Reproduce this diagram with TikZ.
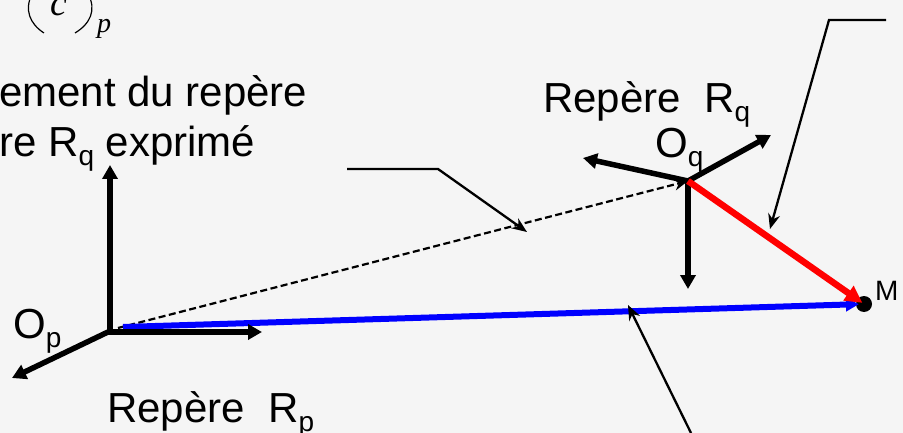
\documentclass[tikz,border=0pt]{standalone}
\usepackage{fontspec}
\setmainfont{Liberation Sans}
\newfontfamily\timesfont{Liberation Serif}
\usepackage{xcolor}
\usetikzlibrary{arrows.meta, positioning}
\definecolor{bgpage}{HTML}{F5F5F5}
\newcommand{\sousind}[1]{\raisebox{-9pt}{\fontsize{28}{28}\selectfont #1}}
\tikzset{
  lab/.style={inner sep=0pt, font=\fontsize{42}{42}\selectfont, anchor=base west},
  axe/.style={-{Triangle[length=14pt, width=15pt]}, line width=5.5pt, black},
  vecq/.style={-{Triangle[length=17pt, width=17pt]}, line width=6.5pt, red},
  vecp/.style={-{Triangle[length=13pt, width=13pt]}, line width=6pt, blue},
  fleche/.style={-{Stealth[length=15pt, width=12pt]}, line width=2.3pt, black},
  pointille/.style={-{Stealth[length=14pt, width=12pt]}, line width=2.2pt, black, dash pattern=on 7pt off 3.5pt},
}
\begin{document}
\begin{tikzpicture}[x=1pt, y=-1pt]
  \useasboundingbox (0,0) rectangle (903,433);
  \clip (0,0) rectangle (903,433);
  \fill[bgpage] (0,0) rectangle (903,433);

  % Origines et point M
  \coordinate (op) at (108,332);
  \coordinate (oq) at (688,181);
  \coordinate (pstart) at (123,327);
  \coordinate (dstart) at (118,328);
  \node[circle, fill=black, inner sep=0pt, minimum size=16pt] (m) at (864,304) {};

  % Textes
  \node[lab, font=\fontsize{38}{38}\selectfont] (txtc) at (50,16) {\timesfont\itshape c};
  \node[lab, font=\fontsize{28}{28}\selectfont] (txtp) at (97,33) {\timesfont\itshape p};
  \node[lab] (txt1) at (-1,107) {ement du repère};
  \node[lab] (txt2) at (-1,157) {re R\sousind{q} exprimé};
  \node[lab] (rq) at (543,113) {Repère\ \ R\sousind{q}};
  \node[lab] (oqlab) at (655,158) {O\sousind{q}};
  \node[lab] (oplab) at (13,338) {O\sousind{p}};
  \node[lab] (rp) at (107,422) {Repère\ \ R\sousind{p}};
  \node[lab, font=\fontsize{28}{28}\selectfont] (mlab) at (875,300) {M};

  % Parentheses
  \draw[line width=1.2pt] (32,-6) .. controls (24,10) and (30,24) .. (44,33);
  \draw[line width=1.2pt] (88,-6) .. controls (97,10) and (90,24) .. (75,33);

  % Vecteurs
  \draw[pointille] (dstart) -- (oq);
  \draw[vecp, shorten >=5pt] (pstart) -- (m.center);

  % Repere Rp
  \coordinate (pbase) at (110,332);
  \coordinate (ptip1) at (110,165);
  \coordinate (ptip2) at (262,332);
  \coordinate (ptip3) at (12,378);
  \draw[axe] (op) -- (ptip2);
  \draw[axe] (pbase) -- (ptip1);
  \draw[axe] (op) -- (ptip3);

  % Repere Rq
  \coordinate (qtip1) at (583,158);
  \coordinate (qtip2) at (771,135);
  \coordinate (qtip3) at (688,289);
  \draw[axe] (oq) -- (qtip1);
  \draw[axe] (oq) -- (qtip2);
  \draw[axe] (oq) -- (qtip3);

  \draw[vecq, shorten >=2pt] (oq) -- (m.center);

  % Renvois
  \coordinate (l1a) at (347,169);
  \coordinate (l1b) at (438,169);
  \coordinate (l1c) at (527,232);
  \coordinate (l2a) at (886,20);
  \coordinate (l2b) at (829,20);
  \coordinate (l2c) at (770,229);
  \coordinate (l3a) at (691,433);
  \coordinate (l3c) at (628,305);
  \draw[fleche] (l1a) -- (l1b) -- (l1c);
  \draw[fleche] (l2a) -- (l2b) -- (l2c);
  \draw[fleche] (l3a) -- (l3c);
\end{tikzpicture}
\end{document}
